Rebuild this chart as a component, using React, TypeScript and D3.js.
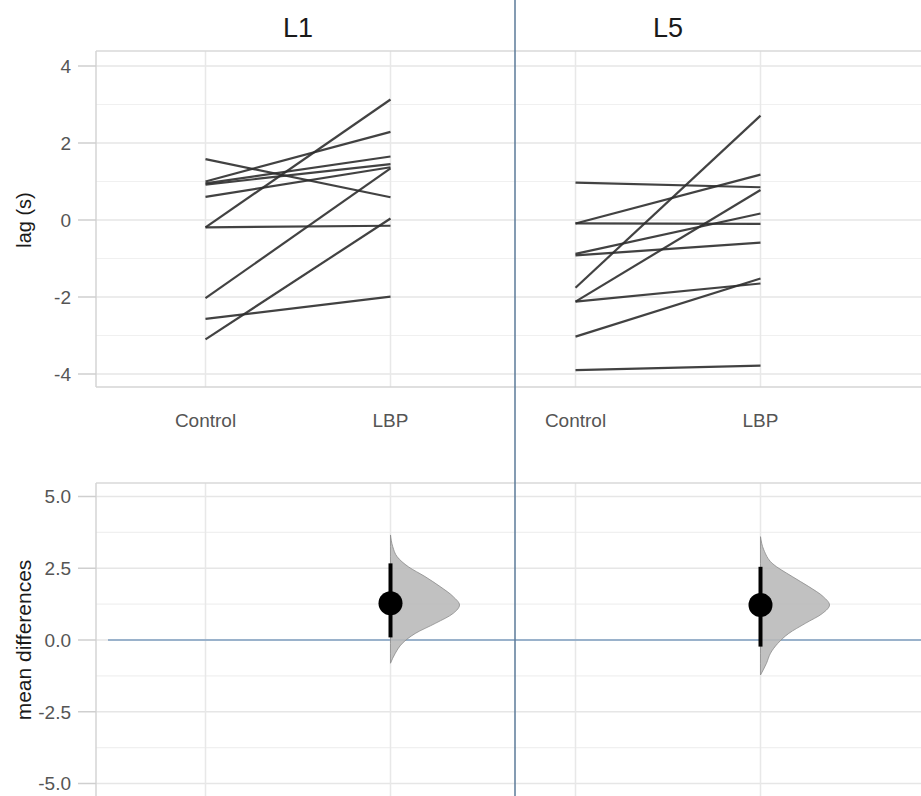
import React from "react";
import * as d3 from "d3";

// ---- data ----
const facets = ["L1", "L5"];
const groups = ["Control", "LBP"];

const l1Control = [1.58, 1.0, 0.95, 0.92, 0.6, -0.19, -0.19, -2.03, -2.57, -3.1];
const l1LBP = [0.59, 2.29, 1.65, 1.45, 1.37, 3.13, -0.15, 1.34, -1.99, 0.04];

const l5Control = [0.97, -0.09, -0.09, -0.88, -0.92, -1.76, -2.12, -2.12, -3.03, -3.9];
const l5LBP = [0.85, 1.18, -0.1, 0.17, -0.59, 2.71, 0.78, -1.65, -1.52, -3.78];

const meanDiff = [1.28, 1.22];
const ciLow = [0.09, -0.23];
const ciHigh = [2.67, 2.55];

// bootstrap density profile (value, relative density)
const l1DensValues = [3.66, 3.25, 2.9, 2.55, 2.21, 1.86, 1.51, 1.22, 0.93, 0.58, 0.23, -0.12, -0.46, -0.81];
const l1DensHeights = [0, 0.033, 0.097, 0.26, 0.5, 0.72, 0.91, 1.0, 0.91, 0.65, 0.36, 0.17, 0.07, 0];
const l5DensValues = [3.6, 3.14, 2.67, 2.21, 1.86, 1.51, 1.22, 0.93, 0.58, 0.23, -0.12, -0.46, -0.81, -1.22];
const l5DensHeights = [0, 0.048, 0.17, 0.46, 0.7, 0.91, 1.0, 0.9, 0.65, 0.41, 0.25, 0.145, 0.087, 0];

const topTicks = [-4, -2, 0, 2, 4];
const topMinor = [-3, -1, 1, 3];
const botTicks = [-5, -2.5, 0, 2.5, 5];
const botMinor = [-3.75, -1.25, 1.25, 3.75];

// ---- layout ----
const W = 921;
const H = 796;
const plotLeft = 96;
const plotRight = 921;
const topPanelTop = 51;
const topPanelBottom = 387;
const botPanelTop = 483;
const dividerX = 515;
const densWidth = 69;

const FONT = "'Liberation Sans', Arial, Helvetica, sans-serif";

export default function App() {
  const facetScale = d3.scaleBand<string>().domain(facets).range([113, 853]).paddingInner(0).paddingOuter(0);
  const groupScale = d3.scalePoint<string>().domain(groups).range([0, facetScale.bandwidth()]).padding(0.5);
  const xPos = (f: string, g: string) => (facetScale(f) as number) + (groupScale(g) as number);

  const yTop = d3.scaleLinear().domain([-4, 4]).range([374, 66]);
  const yBot = d3.scaleLinear().domain([-5, 5]).range([783.5, 496.5]);

  const pairs = [
    { facet: "L1", c: l1Control, l: l1LBP },
    { facet: "L5", c: l5Control, l: l5LBP },
  ];
  const dens = [
    { facet: "L1", v: l1DensValues, h: l1DensHeights },
    { facet: "L5", v: l5DensValues, h: l5DensHeights },
  ];

  const vGrid: number[] = [];
  facets.forEach((f) => groups.forEach((g) => vGrid.push(xPos(f, g))));

  const widthScale = d3.scaleLinear().domain([0, 1]).range([0, densWidth]);

  return (
    <svg width={W} height={H} style={{ position: "absolute", left: 0, top: 0, background: "#fff" }} fontFamily={FONT}>
      {/* ---------- TOP PANEL ---------- */}
      {topMinor.map((t) => (
        <line key={"tm" + t} x1={plotLeft} x2={plotRight} y1={yTop(t)} y2={yTop(t)} stroke="#f0f0f0" strokeWidth={1.2} />
      ))}
      {topTicks.map((t) => (
        <line key={"tg" + t} x1={plotLeft} x2={plotRight} y1={yTop(t)} y2={yTop(t)} stroke="#e6e6e6" strokeWidth={1.5} />
      ))}
      {vGrid.map((x, i) => (
        <line key={"tv" + i} x1={x} x2={x} y1={topPanelTop} y2={topPanelBottom} stroke="#e8e8e8" strokeWidth={1.5} />
      ))}
      {/* panel border */}
      <line x1={plotLeft} x2={plotRight} y1={topPanelTop} y2={topPanelTop} stroke="#d9d9d9" strokeWidth={1.5} />
      <line x1={plotLeft} x2={plotRight} y1={topPanelBottom} y2={topPanelBottom} stroke="#d4d4d4" strokeWidth={1.5} />
      <line x1={plotLeft} x2={plotLeft} y1={topPanelTop} y2={topPanelBottom} stroke="#d4d4d4" strokeWidth={1.5} />
      {topTicks.map((t) => (
        <g key={"tt" + t}>
          <line x1={78} x2={plotLeft} y1={yTop(t)} y2={yTop(t)} stroke="#cfcfcf" strokeWidth={1.5} />
          <text x={71} y={yTop(t)} dy="0.36em" textAnchor="end" fontSize={19} fill="#555">
            {String(t)}
          </text>
        </g>
      ))}
      <text transform={`translate(31,${yTop(0)}) rotate(-90)`} textAnchor="middle" fontSize={20} fill="#1a1a1a">
        lag (s)
      </text>

      {/* paired lines */}
      {pairs.map((p) =>
        p.c.map((cv, i) => (
          <line
            key={p.facet + "l" + i}
            x1={xPos(p.facet, "Control")}
            x2={xPos(p.facet, "LBP")}
            y1={yTop(cv)}
            y2={yTop(p.l[i])}
            stroke="#2e2e2e"
            strokeWidth={2.2}
            strokeOpacity={0.9}
          />
        ))
      )}

      {/* facet titles */}
      {facets.map((f) => (
        <text key={"ft" + f} x={(xPos(f, "Control") + xPos(f, "LBP")) / 2} y={37} textAnchor="middle" fontSize={27} fill="#1a1a1a">
          {f}
        </text>
      ))}

      {/* x labels */}
      {facets.map((f) =>
        groups.map((g) => (
          <text key={"xl" + f + g} x={xPos(f, g)} y={427} textAnchor="middle" fontSize={19} fill="#555">
            {g}
          </text>
        ))
      )}

      {/* ---------- BOTTOM PANEL ---------- */}
      {botMinor.map((t) => (
        <line key={"bm" + t} x1={plotLeft} x2={plotRight} y1={yBot(t)} y2={yBot(t)} stroke="#f0f0f0" strokeWidth={1.2} />
      ))}
      {botTicks.map((t) => (
        <line key={"bg" + t} x1={plotLeft} x2={plotRight} y1={yBot(t)} y2={yBot(t)} stroke="#e6e6e6" strokeWidth={1.5} />
      ))}
      {vGrid.map((x, i) => (
        <line key={"bv" + i} x1={x} x2={x} y1={botPanelTop} y2={H} stroke="#e8e8e8" strokeWidth={1.5} />
      ))}
      <line x1={plotLeft} x2={plotRight} y1={botPanelTop} y2={botPanelTop} stroke="#d9d9d9" strokeWidth={1.5} />
      <line x1={plotLeft} x2={plotLeft} y1={botPanelTop} y2={H} stroke="#d4d4d4" strokeWidth={1.5} />
      {botTicks.map((t) => (
        <g key={"bt" + t}>
          <line x1={78} x2={plotLeft} y1={yBot(t)} y2={yBot(t)} stroke="#cfcfcf" strokeWidth={1.5} />
          <text x={71} y={yBot(t)} dy="0.36em" textAnchor="end" fontSize={19} fill="#555">
            {t.toFixed(1)}
          </text>
        </g>
      ))}
      <text transform={`translate(31,${yBot(0)}) rotate(-90)`} textAnchor="middle" fontSize={21} fill="#1a1a1a">
        mean differences
      </text>

      {/* zero line */}
      <line x1={108} x2={plotRight} y1={yBot(0)} y2={yBot(0)} stroke="#7f9fc0" strokeWidth={1.5} />

      {/* density half-violins */}
      {dens.map((d) => {
        const x0 = xPos(d.facet, "LBP");
        const pts = d.v.map((v, i) => [v, d.h[i]] as [number, number]);
        const area = d3
          .area<[number, number]>()
          .y((p) => yBot(p[0]))
          .x0(x0)
          .x1((p) => x0 + widthScale(p[1]))
          .curve(d3.curveMonotoneY);
        return (
          <path
            key={"dn" + d.facet}
            d={area(pts.slice().reverse()) || ""}
            fill="#b8b8b8"
            fillOpacity={0.88}
            stroke="#8a8a8a"
            strokeWidth={0.8}
          />
        );
      })}

      {/* CI and mean */}
      {facets.map((f, i) => {
        const x = xPos(f, "LBP");
        return (
          <g key={"ci" + f}>
            <line x1={x} x2={x} y1={yBot(ciLow[i])} y2={yBot(ciHigh[i])} stroke="#000" strokeWidth={4} />
            <circle cx={x} cy={yBot(meanDiff[i])} r={12} fill="#000" />
          </g>
        );
      })}

      {/* divider */}
      <line x1={dividerX} x2={dividerX} y1={0} y2={H} stroke="#5b7a99" strokeWidth={1.5} />
    </svg>
  );
}
